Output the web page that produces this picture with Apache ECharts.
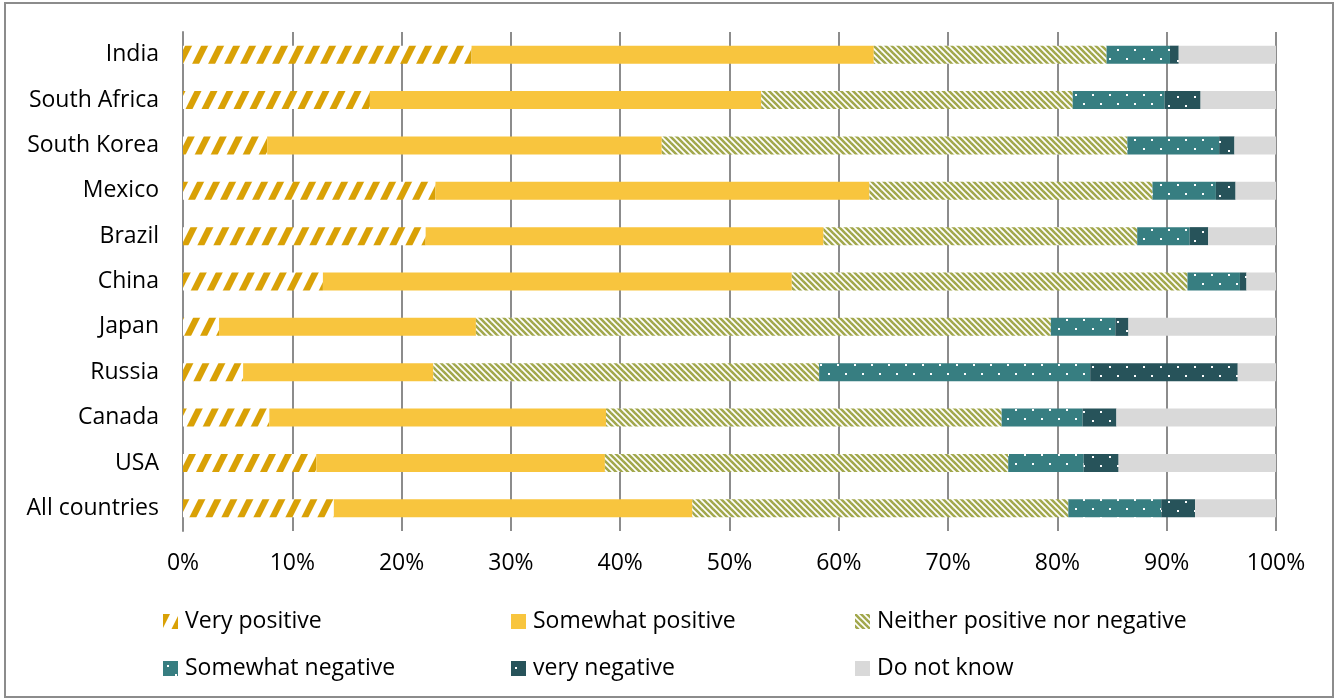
<!DOCTYPE html>
<html>
<head>
<meta charset="utf-8">
<script src="https://cdn.jsdelivr.net/npm/echarts@6/dist/echarts.min.js"></script>
<style>
  html, body { margin: 0; padding: 0; background: #fff; }
  #container { width: 1338px; height: 700px; }
</style>
</head>
<body>
<div id="container"></div>
<script>
var countries = ['India', 'South Africa', 'South Korea', 'Mexico', 'Brazil', 'China', 'Japan', 'Russia', 'Canada', 'USA', 'All countries'];
var veryPositive     = [26.4, 17.1,  7.7, 23.1, 22.2, 12.8,  3.3,  5.5,  7.9, 12.2, 13.8];
var somewhatPositive = [36.8, 35.8, 36.1, 39.7, 36.4, 42.9, 23.5, 17.4, 30.8, 26.4, 32.8];
var neither          = [21.3, 28.5, 42.6, 25.9, 28.7, 36.2, 52.6, 35.3, 36.2, 36.9, 34.4];
var somewhatNegative = [ 5.8,  8.4,  8.4,  5.8,  4.8,  4.8,  5.9, 24.8,  7.4,  6.9,  8.5];
var veryNegative     = [ 0.8,  3.3,  1.4,  1.8,  1.7,  0.6,  1.2, 13.5,  3.1,  3.2,  3.1];
var doNotKnow        = [ 8.9,  6.9,  3.8,  3.7,  6.2,  2.7, 13.5,  3.5, 14.6, 14.4,  7.4];
var seriesNames = ['Very positive', 'Somewhat positive', 'Neither positive nor negative', 'Somewhat negative', 'very negative', 'Do not know'];

// pattern tiles
function tile(w, h, draw) {
    var c = document.createElement('canvas');
    c.width = w; c.height = h;
    draw(c.getContext('2d'), w, h);
    return { image: c, repeat: 'repeat' };
}
var gold = '#D9A106';
var olive = '#A2A84D';
var teal = '#377E81';
var darkTeal = '#27535A';

var stripeGold = tile(16, 32, function (ctx, w, h) {
    ctx.fillStyle = '#fff';
    ctx.fillRect(0, 0, w, h);
    ctx.fillStyle = gold;
    // parallelograms, extended past the tile so the seams line up
    for (var k = -3; k <= 3; k++) {
        var x0 = k * 16;
        ctx.beginPath();
        ctx.moveTo(x0 - 16, 64);
        ctx.lineTo(x0 + 32, -32);
        ctx.lineTo(x0 + 39, -32);
        ctx.lineTo(x0 - 9, 64);
        ctx.closePath();
        ctx.fill();
    }
});
var stripeOlive = tile(6, 6, function (ctx, w, h) {
    ctx.fillStyle = '#fff';
    ctx.fillRect(0, 0, w, h);
    ctx.strokeStyle = olive;
    ctx.lineWidth = 2.6;
    for (var k = -1; k <= 1; k++) {
        ctx.beginPath();
        ctx.moveTo(k * 6 - 3, -3);
        ctx.lineTo(k * 6 + 9, 9);
        ctx.stroke();
    }
});
var dotsTeal = tile(17, 18, function (ctx, w, h) {
    ctx.fillStyle = teal;
    ctx.fillRect(0, 0, w, h);
    ctx.fillStyle = '#fff';
    ctx.fillRect(4, 4, 2, 2);
    ctx.fillRect(12, 13, 2, 2);
});
var dotsDark = tile(17, 18, function (ctx, w, h) {
    ctx.fillStyle = darkTeal;
    ctx.fillRect(0, 0, w, h);
    ctx.fillStyle = '#fff';
    ctx.fillRect(4, 6, 2, 2);
    ctx.fillRect(12, 15, 2, 2);
});

var fills = [stripeGold, '#F8C53E', stripeOlive, dotsTeal, dotsDark, '#D9D9D9'];
var values = [veryPositive, somewhatPositive, neither, somewhatNegative, veryNegative, doNotKnow];

var font = 'Open Sans';
var fs = 23;
var myChart = echarts.init(document.getElementById('container'));

var series = [];
for (var i = 0; i < seriesNames.length; i++) {
    series.push({
        name: seriesNames[i],
        type: 'bar',
        stack: 'total',
        barWidth: 18,
        data: values[i],
        itemStyle: { color: fills[i] }
    });
}

// one legend per item so each sits in its own column
var legendPos = [[158, 605], [506, 605], [850, 605], [158, 652], [506, 652], [850, 652]];
var legends = [];
for (var j = 0; j < seriesNames.length; j++) {
    legends.push({
        data: [seriesNames[j]],
        left: legendPos[j][0],
        top: legendPos[j][1],
        itemWidth: 15,
        itemHeight: 15,
        itemGap: 0,
        icon: 'rect',
        selectedMode: false,
        textStyle: { fontFamily: font, fontSize: fs, color: '#000', padding: [0, 0, 0, 2] }
    });
}

var option = {
    animation: false,
    backgroundColor: '#fff',
    grid: { left: 183, right: 62, top: 32, height: 499 },
    legend: legends,
    xAxis: {
        type: 'value',
        min: 0,
        max: 100,
        interval: 10,
        axisLine: { show: false },
        axisTick: { show: false },
        axisLabel: { formatter: '{value}%', fontFamily: font, fontSize: fs, color: '#000', margin: 21 },
        splitLine: { lineStyle: { color: '#8C8C8C', width: 2 } }
    },
    yAxis: {
        type: 'category',
        data: countries,
        inverse: true,
        axisLine: { lineStyle: { color: '#8C8C8C', width: 2 } },
        axisTick: { length: 7, lineStyle: { color: '#8C8C8C', width: 2 } },
        axisLabel: { fontFamily: font, fontSize: fs, color: '#000', margin: 24 }
    },
    graphic: [{
        type: 'rect',
        shape: { x: 5, y: 3, width: 1328, height: 694 },
        style: { fill: 'none', stroke: '#8C8C8C', lineWidth: 2 },
        silent: true
    }],
    series: series
};
myChart.setOption(option);
</script>
</body>
</html>
